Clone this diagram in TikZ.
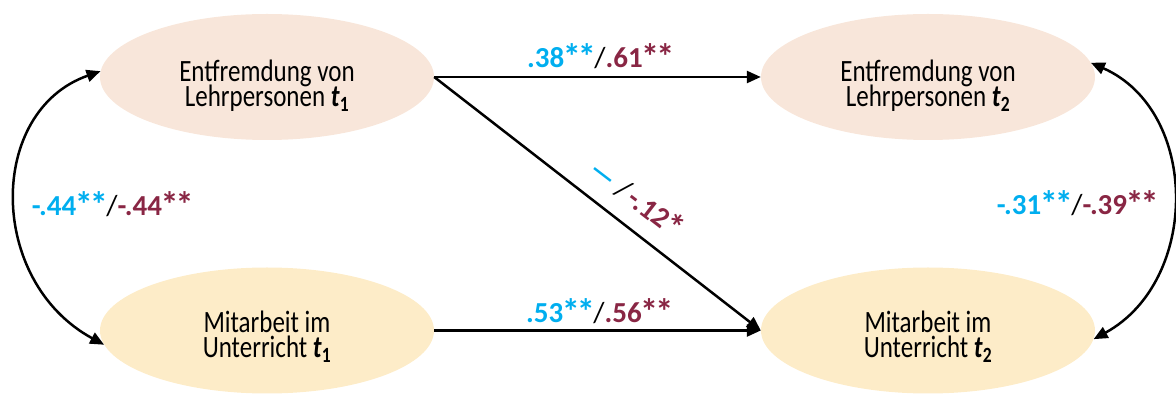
\documentclass[tikz,border=0pt]{standalone}
\usepackage{fontspec}
\setmainfont{Carlito}
\usetikzlibrary{arrows.meta,shapes.geometric}
\definecolor{lblue}{RGB}{0,174,239}
\definecolor{wine}{RGB}{137,38,68}
\definecolor{peach}{RGB}{248,230,218}
\definecolor{cream}{RGB}{253,236,200}
\newcommand{\sigst}{\kern-1.5pt\raisebox{-1.5pt}{\scalebox{1.25}{*}}\kern-1.5pt}
\begin{document}
\begin{tikzpicture}[x=1pt,y=1pt,
  ell/.style={ellipse, minimum width=334pt, minimum height=126pt, inner sep=0pt, draw=none},
  txt/.style={font=\fontsize{25}{25}\selectfont, inner sep=0pt, anchor=base, yscale=1.24, transform shape},
  coef/.style={font=\fontsize{29}{29}\selectfont\bfseries, inner sep=0pt, anchor=base},
  arr/.style={line width=2.5pt, -{Triangle[length=14pt,width=12pt]}},
  dbl/.style={line width=2.5pt, {Triangle[length=14pt,width=12pt]}-{Triangle[length=14pt,width=12pt]}}
]
\useasboundingbox (0,0) rectangle (1176,396);
% ellipses
\node[ell, fill=peach] (E1) at (267,319) {};
\node[ell, fill=peach] (E2) at (928,319) {};
\node[ell, fill=cream] (M1) at (267,65.5) {};
\node[ell, fill=cream] (M2) at (928,65.5) {};
% texts
\node[txt] (E1a) at (267,314) {Entfremdung von};
\node[txt] (E1b) at (267,289) {Lehrpersonen \textbf{\textit{t}}\textsubscript{\textbf{1}}};
\node[txt] (E2a) at (928,314) {Entfremdung von};
\node[txt] (E2b) at (928,289) {Lehrpersonen \textbf{\textit{t}}\textsubscript{\textbf{2}}};
\node[txt] (M1a) at (267,63) {Mitarbeit im};
\node[txt] (M1b) at (267,38) {Unterricht \textbf{\textit{t}}\textsubscript{\textbf{1}}};
\node[txt] (M2a) at (928,63) {Mitarbeit im};
\node[txt] (M2b) at (928,38) {Unterricht \textbf{\textit{t}}\textsubscript{\textbf{2}}};
% connectors
\draw[arr] (E1.east) -- (E2.west);
\draw[arr] (M1.east) -- (M2.west);
\draw[arr] (E1.east) -- (M2.west);
\draw[dbl] (E1.178) .. controls (-13,285) and (-13,115) .. (M1.185);
\draw[dbl] (E2.5) .. controls (1200,285) and (1200,115) .. (M2.-3);
% coefficients
\node[coef] (c1) at (600,328) {\textcolor{lblue}{.38\sigst\sigst}{\mdseries/}\textcolor{wine}{.61\sigst\sigst}};
\node[coef] (c2) at (599,73) {\textcolor{lblue}{.53\sigst\sigst}{\mdseries/}\textcolor{wine}{.56\sigst\sigst}};
\node[coef] (c3) at (112,180) {\textcolor{lblue}{-.44\sigst\sigst}{\mdseries/}\textcolor{wine}{-.44\sigst\sigst}};
\node[coef] (c4) at (1077,181) {\textcolor{lblue}{-.31\sigst\sigst}{\mdseries/}\textcolor{wine}{-.39\sigst\sigst}};
\node[coef, anchor=center, rotate=-37.5] (c5) at (637,199) {\textcolor{lblue}{—} {\mdseries/}\,\textcolor{wine}{-.12\sigst}};
\end{tikzpicture}
\end{document}
